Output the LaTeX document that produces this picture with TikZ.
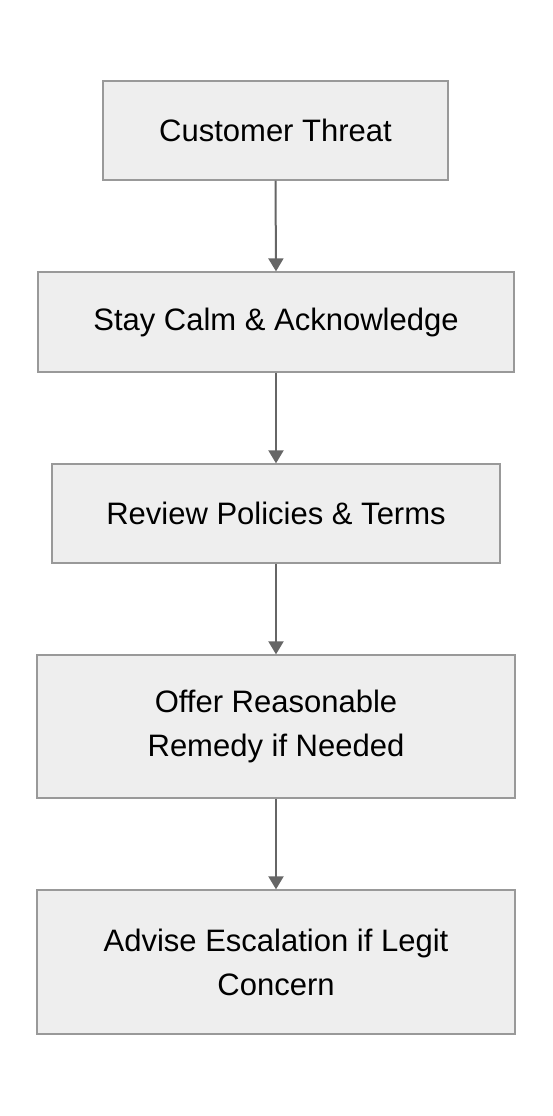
\documentclass[tikz,border=0pt]{standalone}
\usepackage{fontspec}
\setmainfont{Liberation Sans}
\usetikzlibrary{arrows.meta}
\definecolor{boxfill}{HTML}{EEEEEE}
\definecolor{boxline}{HTML}{999999}
\definecolor{arrowc}{HTML}{666666}
\tikzset{
  flowbox/.style={draw=boxline, fill=boxfill, line width=1.3pt, inner sep=0pt, align=center,
    font=\fontsize{31}{44}\selectfont, text=black},
  flowarrow/.style={draw=arrowc, line width=2pt, -{Triangle[length=13pt,width=15pt]}}
}
\begin{document}
\begin{tikzpicture}[x=1pt,y=-1pt]
\useasboundingbox (0,0) rectangle (552,1116);
\node[flowbox, minimum width=345pt, minimum height=99pt] (a) at (275.5,130.5) {Customer Threat};
\node[flowbox, minimum width=476pt, minimum height=100pt] (b) at (276,322) {Stay Calm \& Acknowledge};
\node[flowbox, minimum width=448pt, minimum height=99pt] (c) at (276,513.5) {Review Policies \& Terms};
\node[flowbox, minimum width=478pt, minimum height=143pt] (d) at (276,726.5) {Offer Reasonable\\Remedy if Needed};
\node[flowbox, minimum width=478pt, minimum height=144pt] (e) at (276,962) {Advise Escalation if Legit\\Concern};
\draw[flowarrow] (a.south) -- (b.north);
\draw[flowarrow] (b.south) -- (c.north);
\draw[flowarrow] (c.south) -- (d.north);
\draw[flowarrow] (d.south) -- (e.north);
\end{tikzpicture}
\end{document}
